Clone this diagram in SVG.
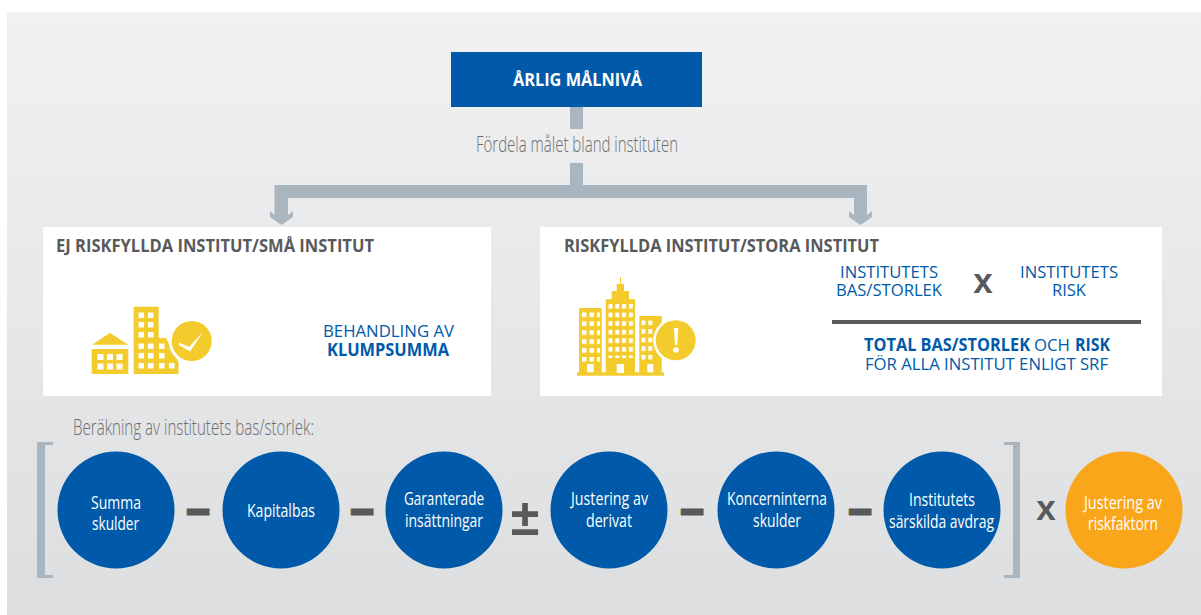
<svg xmlns="http://www.w3.org/2000/svg" width="1201" height="615" viewBox="0 0 1201 615">
<style>
text{font-family:"Open Sans","Liberation Sans",sans-serif}
.h{font-size:17px;font-weight:700;fill:#58595b}
.b{font-size:17px;fill:#005aa9}
.bb{font-weight:700}
.c{font-size:18.500px;fill:#fff;text-anchor:start}
.g{font-size:22px;font-weight:300;fill:#6d6e71}
.op{font-family:"Liberation Sans",sans-serif;font-weight:700;fill:#58595b;text-anchor:middle}
.m{font-size:40px;stroke:#58595b;stroke-width:3}
.blue{fill:#005aa9}.org{fill:#faa61a}.y{fill:#f4cb2d}.win{fill:#fff}.arr{fill:#a9b6bf}
</style>
<defs>
<linearGradient id="bg" x1="0" y1="0" x2="0" y2="1"><stop offset="0" stop-color="#f1f1f2"/><stop offset="1" stop-color="#dcdee0"/></linearGradient>
<pattern id="wL" patternUnits="userSpaceOnUse" x="582" y="312.500" width="7.500" height="8.900"><rect width="4.400" height="4.600" fill="#fff"/></pattern>
<pattern id="wC" patternUnits="userSpaceOnUse" x="608.500" y="304" width="6.800" height="8.600"><rect width="4" height="4.600" fill="#fff"/></pattern>
<pattern id="wR" patternUnits="userSpaceOnUse" x="641.500" y="320.500" width="6.800" height="8.600"><rect width="4" height="4.600" fill="#fff"/></pattern>
</defs>
<rect width="1201" height="615" fill="#fff"/>
<rect x="7" y="12" width="1194" height="603" fill="url(#bg)"/>

<g id="connectors">
<rect class="arr" x="570" y="107" width="13" height="22"/>
<rect class="arr" x="570" y="163" width="13" height="23"/>
<path class="arr" d="M274.500 185H867V215L872 211V217L860.500 225L849 217V211L854 215V198H288V215L293 211V217L281.500 225L270 217V211L274.500 215Z"/>
</g>

<g id="node-arlig">
<rect class="blue" x="451" y="52" width="251" height="55"/>
<text x="513" y="86" font-size="17" font-weight="700" fill="#fff" textLength="129" lengthAdjust="spacingAndGlyphs">ÅRLIG MÅLNIVÅ</text>
</g>
<text class="g" x="476" y="152" textLength="202" lengthAdjust="spacingAndGlyphs">Fördela målet bland instituten</text>

<g id="node-ej-riskfyllda">
<rect x="43" y="227" width="448" height="169" fill="#fff"/>
<text class="h" x="56" y="252" textLength="318" lengthAdjust="spacingAndGlyphs">EJ RISKFYLLDA INSTITUT/SMÅ INSTITUT</text>
<path class="y" d="M92 344.700L110 332.700L128 344.700Z"/>
<rect class="y" x="91.700" y="349" width="36.600" height="25"/>
<g class="win">
<rect x="97.500" y="354" width="6" height="6"/><rect x="107" y="354" width="6" height="6"/><rect x="116.500" y="354" width="6" height="6"/>
<rect x="97.500" y="363.500" width="6" height="6"/><rect x="107" y="363.500" width="6" height="6"/><rect x="116.500" y="363.500" width="6" height="6"/>
</g>
<path class="y" d="M133.700 306.700H158.700V338H166L178.500 362V374H133.700Z"/>
<g class="win">
<rect x="138.500" y="312.500" width="5.500" height="5.500"/><rect x="148" y="312.500" width="5.500" height="5.500"/>
<rect x="138.500" y="322" width="5.500" height="5.500"/><rect x="148" y="322" width="5.500" height="5.500"/>
<rect x="138.500" y="332" width="5.500" height="5.500"/><rect x="148" y="332" width="5.500" height="5.500"/>
<rect x="138.500" y="343.500" width="5.500" height="5.500"/><rect x="148" y="343.500" width="5.500" height="5.500"/><rect x="159" y="343.500" width="5.500" height="5.500"/>
<rect x="138.500" y="353" width="5.500" height="5.500"/><rect x="148" y="353" width="5.500" height="5.500"/><rect x="159" y="353" width="5.500" height="5.500"/>
<rect x="138.500" y="363" width="5.500" height="5.500"/><rect x="148" y="363" width="5.500" height="5.500"/><rect x="159" y="363" width="5.500" height="5.500"/><rect x="169" y="363" width="5.500" height="5.500"/>
</g>
<circle cx="191.700" cy="341" r="23" fill="#fff"/>
<circle class="y" cx="191.700" cy="341" r="20"/>
<path d="M179 342.500L189 347L203 332L190 351.500L179 345Z" fill="#fff"/>
<text class="b" x="323" y="337" textLength="131" lengthAdjust="spacingAndGlyphs">BEHANDLING AV</text>
<text class="b bb" x="327" y="356" textLength="122" lengthAdjust="spacingAndGlyphs">KLUMPSUMMA</text>
</g>

<g id="node-riskfyllda">
<rect x="540" y="227" width="622" height="169" fill="#fff"/>
<text class="h" x="564" y="252" textLength="315" lengthAdjust="spacingAndGlyphs">RISKFYLLDA INSTITUT/STORA INSTITUT</text>
<rect class="y" x="577" y="372.300" width="87" height="3.400"/>
<rect class="y" x="579" y="308" width="22.700" height="65"/>
<rect x="581" y="312" width="19" height="52" fill="url(#wL)"/>
<rect class="win" x="587" y="364" width="6.700" height="8.300"/>
<path class="y" d="M620 277H621V284H624V291H629V299.300H635V373H605.700V299.300H611.700V291H616.700V284H620Z"/>
<rect x="608" y="303" width="27" height="55" fill="url(#wC)"/>
<rect class="win" x="616.700" y="364" width="7.300" height="9"/>
<rect class="y" x="639.300" y="316" width="22.400" height="57"/>
<rect x="641" y="320" width="13" height="43" fill="url(#wR)"/>
<rect class="win" x="647.300" y="364" width="6" height="8.300"/>
<circle cx="675.700" cy="340.300" r="22.500" fill="#fff"/>
<circle class="y" cx="675.700" cy="340.300" r="20"/>
<path d="M674 328H678.200L677.300 345H675Z" fill="#fff"/>
<circle cx="675.900" cy="350" r="2.800" fill="#fff"/>
<text class="b" x="840" y="278" textLength="98" lengthAdjust="spacingAndGlyphs">INSTITUTETS</text>
<text class="b" x="836" y="296" textLength="106" lengthAdjust="spacingAndGlyphs">BAS/STORLEK</text>
<text class="op" x="983" y="293" font-size="35">x</text>
<text class="b" x="1020" y="278" textLength="98" lengthAdjust="spacingAndGlyphs">INSTITUTETS</text>
<text class="b" x="1052" y="296" textLength="34" lengthAdjust="spacingAndGlyphs">RISK</text>
<rect x="832" y="320" width="309" height="4" fill="#58595b"/>
<text class="b" y="351"><tspan class="bb" x="864" textLength="166" lengthAdjust="spacingAndGlyphs">TOTAL BAS/STORLEK</tspan> <tspan x="1034" textLength="36" lengthAdjust="spacingAndGlyphs">OCH</tspan> <tspan class="bb" x="1075" textLength="35" lengthAdjust="spacingAndGlyphs">RISK</tspan></text>
<text class="b" x="865" y="370" textLength="243" lengthAdjust="spacingAndGlyphs">FÖR ALLA INSTITUT ENLIGT SRF</text>
</g>

<text class="g" x="73" y="435" textLength="241" lengthAdjust="spacingAndGlyphs">Beräkning av institutets bas/storlek:</text>

<g id="bracket-left"><path class="arr" d="M37 442H53V445H45V575H53V578H37Z"/></g>
<g id="bracket-right"><path class="arr" d="M1004 442H1020V578H1004V575H1013V445H1004Z"/></g>

<g id="node-summa"><circle class="blue" cx="116" cy="510" r="58.500"/>
<text class="c" x="91" y="509" textLength="50" lengthAdjust="spacingAndGlyphs">Summa</text>
<text class="c" x="92" y="530" textLength="47" lengthAdjust="spacingAndGlyphs">skulder</text></g>
<g id="node-kapitalbas"><circle class="blue" cx="281" cy="510" r="58.500"/>
<text class="c" x="247" y="517" textLength="68" lengthAdjust="spacingAndGlyphs">Kapitalbas</text></g>
<g id="node-garanterade"><circle class="blue" cx="444" cy="510" r="58.500"/>
<text class="c" x="404" y="505" textLength="80" lengthAdjust="spacingAndGlyphs">Garanterade</text>
<text class="c" x="405" y="527" textLength="78" lengthAdjust="spacingAndGlyphs">insättningar</text></g>
<g id="node-derivat"><circle class="blue" cx="609" cy="510" r="58.500"/>
<text class="c" x="571" y="505" textLength="77" lengthAdjust="spacingAndGlyphs">Justering av</text>
<text class="c" x="586" y="527" textLength="46" lengthAdjust="spacingAndGlyphs">derivat</text></g>
<g id="node-koncern"><circle class="blue" cx="776" cy="510" r="58.500"/>
<text class="c" x="727" y="505" textLength="100" lengthAdjust="spacingAndGlyphs">Koncerninterna</text>
<text class="c" x="753" y="527" textLength="48" lengthAdjust="spacingAndGlyphs">skulder</text></g>
<g id="node-sarskilda"><circle class="blue" cx="942" cy="510" r="58.500"/>
<text class="c" x="909" y="506" textLength="66" lengthAdjust="spacingAndGlyphs">Institutets</text>
<text class="c" x="889" y="528" textLength="105" lengthAdjust="spacingAndGlyphs">särskilda avdrag</text></g>
<g id="node-riskfaktor"><circle class="org" cx="1124" cy="510" r="58.500"/>
<text class="c" x="1084" y="509" textLength="78" lengthAdjust="spacingAndGlyphs">Justering av</text>
<text class="c" x="1088" y="530" textLength="70" lengthAdjust="spacingAndGlyphs">riskfaktorn</text></g>

<text class="op m" x="198" y="523">–</text>
<text class="op m" x="362" y="523">–</text>
<text class="op" x="525" y="535" font-size="52">±</text>
<text class="op m" x="692" y="523">–</text>
<text class="op m" x="860" y="523">–</text>
<text class="op" x="1046" y="520" font-size="35">x</text>
</svg>
